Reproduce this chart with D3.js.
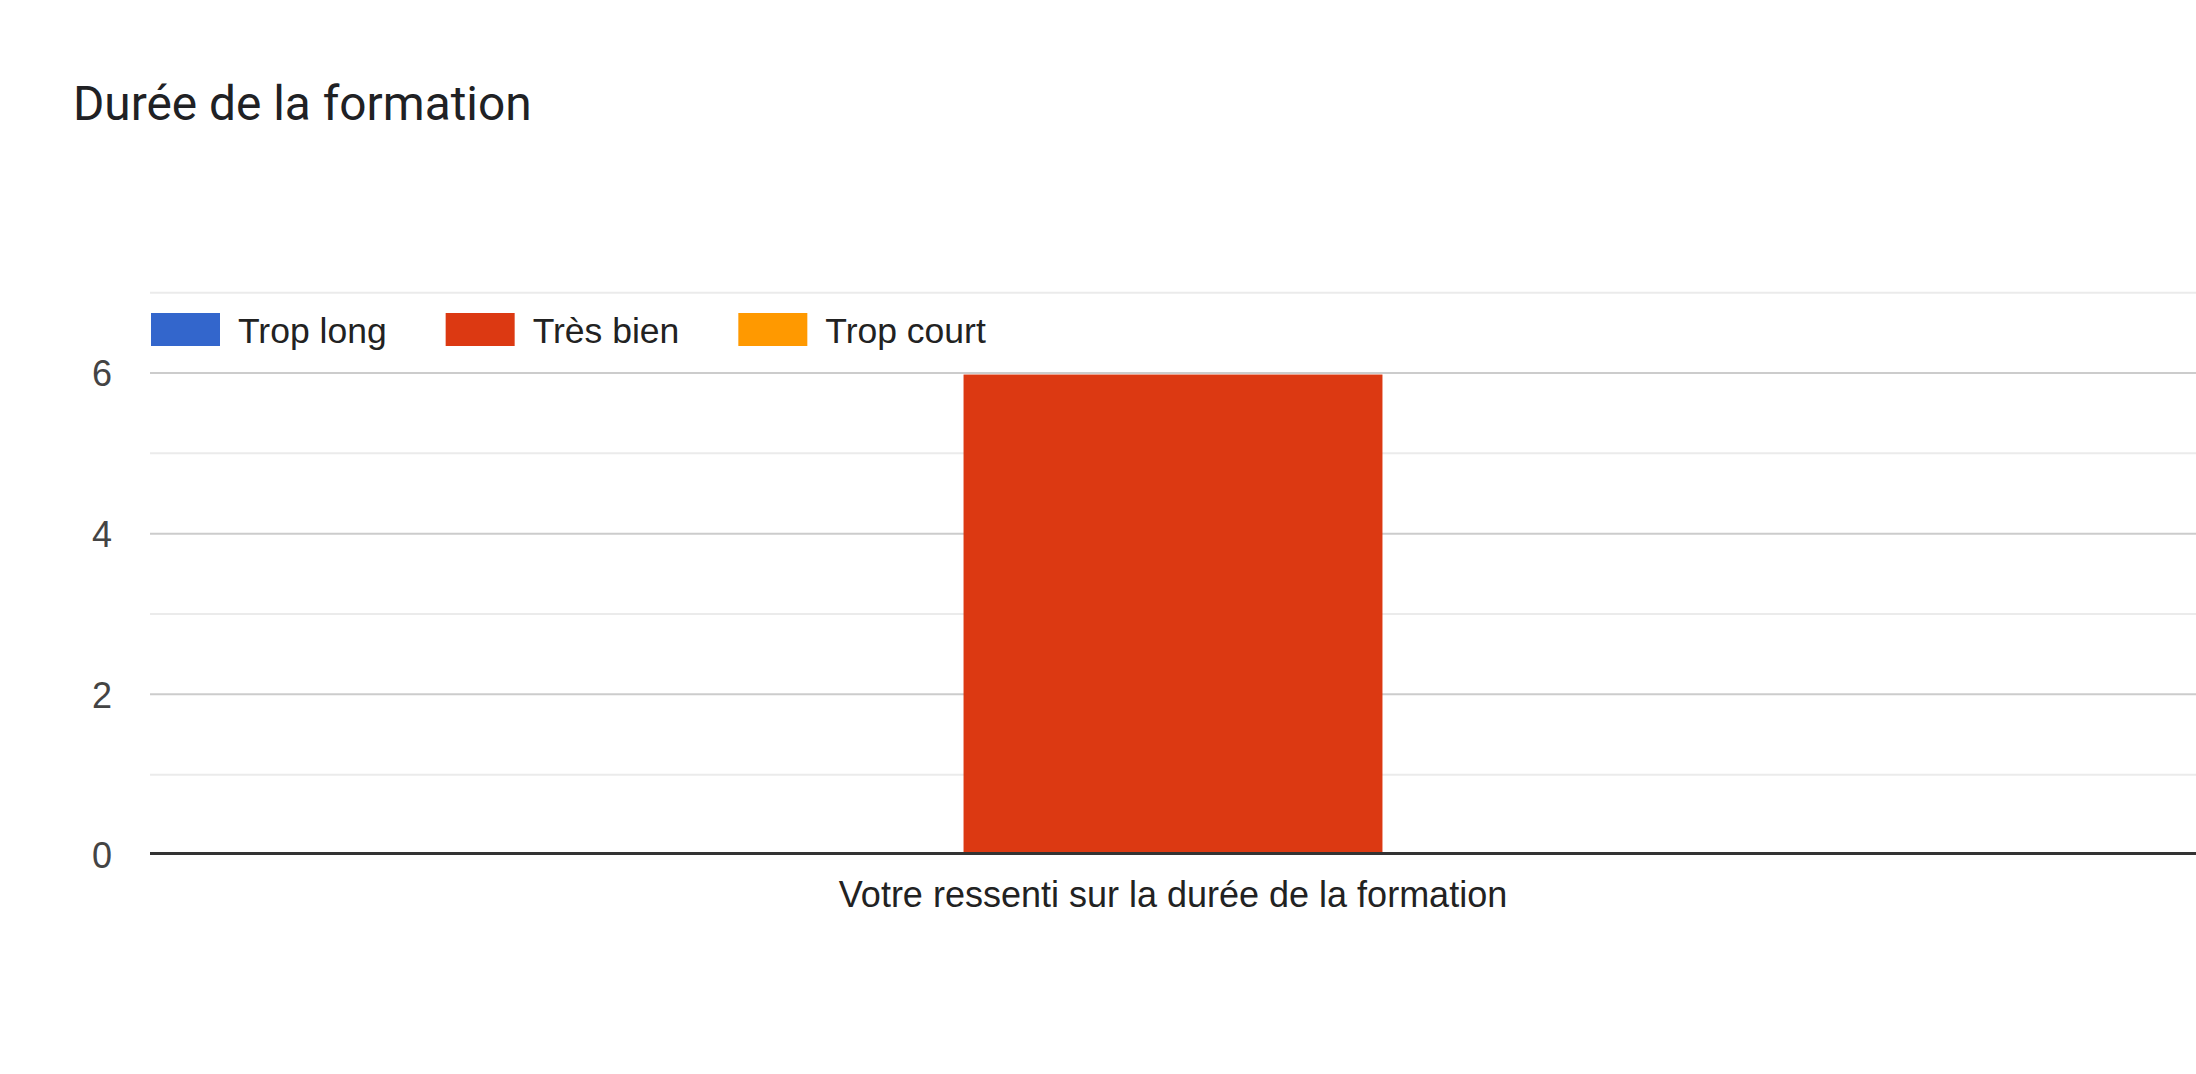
<!DOCTYPE html>
<html>
<head>
<meta charset="utf-8">
<script src="https://cdn.jsdelivr.net/npm/d3@7"></script>
<style>
  html, body { margin: 0; padding: 0; background: #fff; }
  svg { display: block; }
</style>
</head>
<body>
<svg id="chart" width="2196" height="1074"></svg>
<script>
const title = "Durée de la formation";
const categories = ["Votre ressenti sur la durée de la formation"];
const seriesNames = ["Trop long", "Très bien", "Trop court"];
const seriesColors = ["#3366cc", "#dc3912", "#ff9900"];
const seriesValues = [[0], [6], [0]]; // per series, per category
const yTicks = [0, 2, 4, 6];
const yGrid = [0, 1, 2, 3, 4, 5, 6, 7];

const W = 2196, H = 1074;
const plot = { left: 150, right: 2196, top: 292.7, bottom: 855 };
const svg = d3.select("#chart");
svg.append("rect").attr("width", W).attr("height", H).attr("fill", "#fff");

const y = d3.scaleLinear().domain([0, 7]).range([plot.bottom, plot.top]);
const x0 = d3.scaleBand().domain(categories).range([plot.left, plot.right])
  .paddingInner(0).paddingOuter(0.314);
const x1 = d3.scaleBand().domain(seriesNames).range([0, x0.bandwidth()]).padding(0);

// gridlines
svg.append("g").selectAll("line").data(yGrid.filter(v => v !== 0)).join("line")
  .attr("x1", plot.left).attr("x2", plot.right)
  .attr("y1", d => y(d)).attr("y2", d => y(d))
  .attr("stroke", d => d % 2 === 0 ? "#cccccc" : "#ebebeb")
  .attr("stroke-width", 2);

// bars
const g = svg.append("g");
categories.forEach((c, ci) => {
  seriesNames.forEach((s, si) => {
    const v = seriesValues[si][ci];
    const top = v > 0 ? y(v) + 1.5 : y(0);
    g.append("rect")
      .attr("x", x0(c) + x1(s))
      .attr("width", x1.bandwidth())
      .attr("y", top)
      .attr("height", y(0) - top)
      .attr("fill", seriesColors[si]);
  });
});

// baseline
svg.append("line")
  .attr("x1", plot.left).attr("x2", plot.right)
  .attr("y1", y(0) - 1.5).attr("y2", y(0) - 1.5)
  .attr("stroke", "#333333").attr("stroke-width", 3);

// y axis labels
const yAxis = d3.axisLeft(y).tickValues(yTicks).tickFormat(d3.format("d")).tickSize(0).tickPadding(0);
const ya = svg.append("g").attr("transform", `translate(112,0)`).call(yAxis);
ya.select(".domain").remove();
ya.selectAll("text")
  .attr("font-family", "'Liberation Sans', Arial, sans-serif")
  .attr("font-size", 36).attr("fill", "#444444").attr("dy", "0.36em");

// x axis labels
const xAxis = d3.axisBottom(x0).tickSize(0).tickPadding(0);
const xa = svg.append("g").attr("transform", `translate(0,${y(0)})`).call(xAxis);
xa.select(".domain").remove();
xa.selectAll("text")
  .attr("font-family", "'Liberation Sans', Arial, sans-serif")
  .attr("font-size", 36).attr("fill", "#222222")
  .attr("dy", null).attr("y", 52);

// title
svg.append("text").attr("x", 73).attr("y", 120)
  .attr("font-family", "Roboto, sans-serif").attr("font-size", 47.8)
  .attr("fill", "#202124").text(title);

// legend
const legend = svg.append("g");
let lx = 151;
seriesNames.forEach((s, i) => {
  legend.append("rect").attr("x", lx).attr("y", 313)
    .attr("width", 69).attr("height", 33).attr("fill", seriesColors[i]);
  const t = legend.append("text").attr("x", lx + 87).attr("y", 343)
    .attr("font-family", "'Liberation Sans', Arial, sans-serif")
    .attr("font-size", 35.5).attr("fill", "#222222").text(s);
  lx = lx + 87 + t.node().getComputedTextLength() + 59;
});
</script>
</body>
</html>
